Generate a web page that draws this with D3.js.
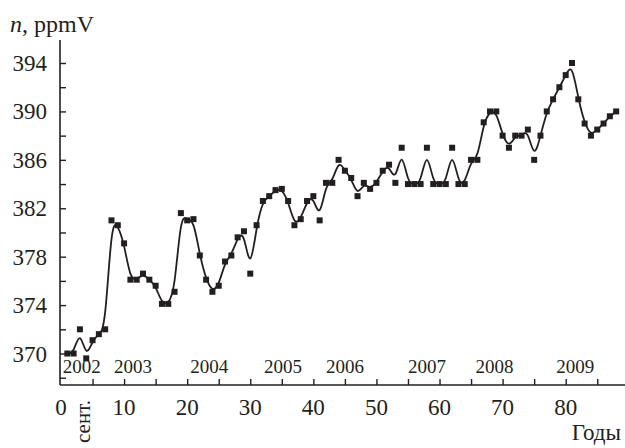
<!DOCTYPE html>
<html>
<head>
<meta charset="utf-8">
<script src="https://cdn.jsdelivr.net/npm/d3@7"></script>
<style>
  html, body { margin: 0; padding: 0; background: #fff; }
  svg { display: block; }
  text { font-family: "Liberation Serif", "Times New Roman", serif; fill: #231f20; }
</style>
</head>
<body>
<svg id="chart" width="625" height="448"></svg>
<script>
// ---- data ----
const months = d3.range(1, 89);
const ppmv = [
  370, 370, 372, 369.6, 371.1, 371.6, 372, 381, 380.6, 379.1,
  376.1, 376.1, 376.6, 376.1, 375.6, 374.1, 374.1, 375.1, 381.6, 381,
  381.1, 378.1, 376.1, 375.1, 375.6, 377.6, 378.1, 379.6, 380.1, 376.6,
  380.6, 382.6, 383, 383.5, 383.6, 382.6, 380.6, 381.1, 382.6, 383,
  381, 384.1, 384.1, 386, 385.1, 384.5, 383, 384.1, 383.6, 384.1,
  385.1, 385.6, 384.1, 387, 384, 384, 384, 387, 384, 384,
  384, 387, 384, 384, 386, 386, 389.1, 390, 390, 388,
  387, 388, 388, 388.5, 386, 388, 390, 391, 392, 393,
  394, 391, 389, 388, 388.5, 389, 389.6, 390
];
const yTicks = [368, 370, 372, 374, 376, 378, 380, 382, 384, 386, 388, 390, 392, 394];
const yTickLabels = [370, 374, 378, 382, 386, 390, 394];
const xTicks = [5, 10, 15, 20, 25, 30, 35, 40, 45, 50, 55, 60, 65, 70, 75, 80, 85];
const xTickLabels = [0, 10, 20, 30, 40, 50, 60, 70, 80];
const yearLabels = ["2002", "2003", "2004", "2005", "2006", "2007", "2008", "2009"];
const yearCenters = [3.3, 11.4, 23.5, 35.2, 45.0, 58.0, 68.7, 81.5];

const data = months.map((m, i) => ({ x: m, y: ppmv[i] }));

// ---- layout ----
const svg = d3.select("#chart");
const ink = "#231f20";
const x = d3.scaleLinear().domain([-0.16, 89.4]).range([60, 625]);
const y = d3.scaleLinear().domain([367.4, 395.9]).range([385, 40]);
const x0 = x.range()[0], yBase = y.range()[0];

// axes
const yAxis = d3.axisRight(y).tickValues(yTicks).tickSize(6).tickFormat("");
const gy = svg.append("g").attr("transform", `translate(${x0},0)`).call(yAxis);
const xAxis = d3.axisTop(x).tickValues(xTicks).tickSize(6).tickFormat("");
const gx = svg.append("g").attr("transform", `translate(0,${yBase})`).call(xAxis);
[gy, gx].forEach(g => {
  g.select(".domain").attr("stroke", ink).attr("stroke-width", 1.6);
  g.selectAll(".tick line").attr("stroke", ink).attr("stroke-width", 1.4);
});
gy.select(".domain").attr("d", `M0,${yBase}V${y.range()[1]}`);
gx.select(".domain").attr("d", `M${x0},0H${x.range()[1]}`);

// y tick labels
svg.append("g").selectAll("text").data(yTickLabels).join("text")
  .attr("x", 47).attr("y", d => y(d)).attr("dy", "0.35em")
  .attr("text-anchor", "end").attr("font-size", 23).text(d => d);

// x tick labels
svg.append("g").selectAll("text").data(xTickLabels).join("text")
  .attr("x", d => x(d)).attr("y", 415)
  .attr("text-anchor", "middle").attr("font-size", 23).text(d => d);

// year labels
svg.append("g").selectAll("text").data(yearLabels).join("text")
  .attr("x", (d, i) => x(yearCenters[i])).attr("y", 373)
  .attr("text-anchor", "middle").attr("font-size", 19).text(d => d);

// "сент." rotated
svg.append("text")
  .attr("transform", `translate(90,443) rotate(-90)`)
  .attr("font-size", 21).text("сент.");

// axis titles
const yt = svg.append("text").attr("x", 10).attr("y", 32).attr("font-size", 24);
yt.append("tspan").attr("font-style", "italic").text("n");
yt.append("tspan").text(", ppmV");
svg.append("text").attr("x", 621).attr("y", 440).attr("text-anchor", "end")
  .attr("font-size", 23).text("Годы");

// smoothed line
const line = d3.line().x(d => x(d.x)).y(d => y(d.y)).curve(d3.curveBasis);
svg.append("path").datum(data).attr("d", line)
  .attr("fill", "none").attr("stroke", ink).attr("stroke-width", 1.8);

// square markers
const s = 6;
svg.append("g").selectAll("rect").data(data).join("rect")
  .attr("x", d => x(d.x) - s / 2).attr("y", d => y(d.y) - s / 2)
  .attr("width", s).attr("height", s).attr("fill", ink);
</script>
</body>
</html>
